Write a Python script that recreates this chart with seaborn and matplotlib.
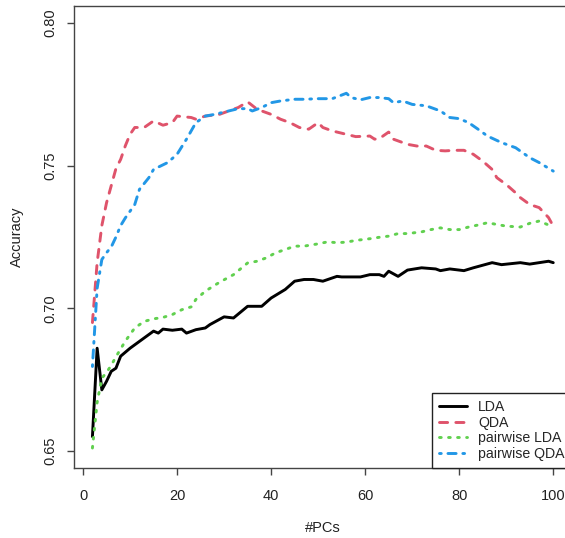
import pandas as pd
import numpy as np
import seaborn as sns
import matplotlib
import matplotlib.pyplot as plt

matplotlib.use('Agg')
sns.set_theme(style="white")
plt.rcParams['font.family'] = ['Liberation Sans', 'DejaVu Sans']

# -------------------------------Datos

lda_x = [2, 3, 4, 5, 6, 7, 8, 10, 13, 15, 16, 17, 19, 21, 22, 24, 26, 27, 30, 32,
         35, 38, 40, 43, 45, 47, 49, 51, 54, 55, 59, 61, 63, 64, 65, 67, 69, 72, 75, 76,
         78, 81, 83, 87, 89, 93, 95, 97, 99, 100]
lda_y = [0.655, 0.686, 0.6714, 0.6744, 0.6779, 0.679, 0.6832, 0.686, 0.6896, 0.692,
         0.6913, 0.6927, 0.6923, 0.6927, 0.6913, 0.6925, 0.6931, 0.6943, 0.697, 0.6966,
         0.7007, 0.7007, 0.7036, 0.7066, 0.7095, 0.7101, 0.7101, 0.7095, 0.7112, 0.711,
         0.711, 0.7118, 0.7118, 0.7112, 0.713, 0.7112, 0.7134, 0.7142, 0.7138, 0.7132,
         0.7138, 0.7132, 0.7142, 0.716, 0.7153, 0.716, 0.7155, 0.716, 0.7165, 0.716]

qda_x = [2, 3, 4, 5, 6, 7, 8, 9, 10, 11, 13, 15, 17, 19, 20, 23, 24, 26, 29, 31,
         33, 35, 37, 38, 40, 42, 44, 46, 48, 50, 51, 53, 56, 58, 61, 62, 63, 65, 66, 69,
         71, 73, 75, 77, 79, 81, 83, 85, 87, 88, 90, 92, 93, 95, 97, 99, 100]
qda_y = [0.695, 0.716, 0.729, 0.737, 0.743, 0.749, 0.7522, 0.757, 0.761, 0.7634,
         0.7634, 0.7657, 0.7642, 0.7651, 0.7674, 0.7669, 0.7663, 0.7674, 0.768, 0.7692,
         0.7704, 0.7724, 0.7698, 0.7692, 0.768, 0.7663, 0.7651, 0.7634, 0.7628, 0.7651,
         0.7634, 0.7622, 0.761, 0.7602, 0.7604, 0.7593, 0.7595, 0.7618, 0.7593, 0.7575,
         0.7569, 0.7569, 0.7554, 0.7552, 0.7554, 0.7554, 0.754, 0.7516, 0.7487, 0.7458,
         0.7434, 0.7405, 0.7388, 0.7364, 0.7353, 0.7318, 0.7288]

plda_x = [2, 3, 4, 5, 6, 7, 9, 11, 13, 15, 17, 19, 21, 23, 24, 26, 29, 32, 35, 37,
          39, 41, 43, 45, 47, 50, 52, 54, 56, 58, 61, 63, 65, 67, 69, 72, 74, 76, 78, 80,
          82, 84, 86, 88, 90, 93, 95, 97, 99, 100]
plda_y = [0.651, 0.667, 0.6755, 0.6775, 0.680, 0.683, 0.6885, 0.6931, 0.6954, 0.6963,
          0.6968, 0.6978, 0.6995, 0.7005, 0.7031, 0.706, 0.7091, 0.7118, 0.7159, 0.7165,
          0.7177, 0.7195, 0.7206, 0.7218, 0.7218, 0.7226, 0.7233, 0.723, 0.7232, 0.7238,
          0.7244, 0.7249, 0.7253, 0.7262, 0.7262, 0.7268, 0.7276, 0.7282, 0.7276, 0.7276,
          0.7285, 0.7292, 0.730, 0.7294, 0.7288, 0.7285, 0.7298, 0.7306, 0.7292, 0.7292]

pqda_x = [2, 3, 4, 5, 6, 7, 8, 9, 11, 12, 14, 15, 18, 20, 22, 24, 26, 28, 30, 33,
          35, 36, 38, 40, 42, 45, 47, 50, 53, 56, 57, 59, 61, 63, 65, 66, 68, 70, 73, 76,
          78, 80, 82, 84, 86, 89, 92, 95, 97, 100]
pqda_y = [0.6796, 0.707, 0.7171, 0.7195, 0.7215, 0.725, 0.729, 0.7317, 0.7364, 0.7417,
          0.7458, 0.7487, 0.7511, 0.754, 0.7593, 0.7651, 0.7674, 0.768, 0.7688, 0.770,
          0.770, 0.7692, 0.7704, 0.7721, 0.7727, 0.7733, 0.7733, 0.7735, 0.7735, 0.7754,
          0.7739, 0.7731, 0.7739, 0.7739, 0.7735, 0.7721, 0.7727, 0.7715, 0.771, 0.7692,
          0.7669, 0.7665, 0.7651, 0.7628, 0.7604, 0.7581, 0.7563, 0.7528, 0.7511, 0.7481]

metodos = ['LDA', 'QDA', 'pairwise LDA', 'pairwise QDA']
x_ticks = [0, 20, 40, 60, 80, 100]
y_ticks = [0.65, 0.70, 0.75, 0.80]

df = pd.concat([
    pd.DataFrame({'PCs': lda_x, 'Accuracy': lda_y, 'Metodo': 'LDA'}),
    pd.DataFrame({'PCs': qda_x, 'Accuracy': qda_y, 'Metodo': 'QDA'}),
    pd.DataFrame({'PCs': plda_x, 'Accuracy': plda_y, 'Metodo': 'pairwise LDA'}),
    pd.DataFrame({'PCs': pqda_x, 'Accuracy': pqda_y, 'Metodo': 'pairwise QDA'}),
], ignore_index=True)

# Colores de la paleta R 4.x
colores = {'LDA': '#000000', 'QDA': '#DF536B',
           'pairwise LDA': '#61D04F', 'pairwise QDA': '#2297E6'}
trazos = {'LDA': '', 'QDA': (2.8, 2.8),
          'pairwise LDA': (0.6, 2.5), 'pairwise QDA': (0.6, 2.3, 2.8, 2.3)}

fig = plt.figure(figsize=(5.65, 5.38), dpi=100)
# el eje derecho queda fuera del lienzo (recortado como en la original)
ax = fig.add_axes([74 / 565, (538 - 468) / 538, (571.7 - 74) / 565, (468 - 6) / 538])

sns.lineplot(data=df, x='PCs', y='Accuracy', hue='Metodo', style='Metodo',
             hue_order=metodos, style_order=metodos, palette=colores, dashes=trazos,
             linewidth=2.1, dash_capstyle='round', solid_capstyle='round',
             estimator=None, sort=True, ax=ax)

ax.set_xlim(-1.92, 103.92)
ax.set_ylim(0.644, 0.806)
ax.set_xticks(x_ticks)
ax.set_yticks(y_ticks)
ax.set_xticklabels([str(t) for t in x_ticks])
ax.set_yticklabels(['%.2f' % t for t in y_ticks], rotation=90, va='center')
ax.tick_params(axis='both', length=5, width=1.0, color='#444444', labelsize=10.5,
               labelcolor='#222222', left=True, bottom=True)
ax.tick_params(axis='x', pad=10)
ax.tick_params(axis='y', pad=7)
for s in ax.spines.values():
    s.set_color('#444444')
    s.set_linewidth(1.0)

ax.set_xlabel('#PCs', fontsize=10.5, color='#222222', labelpad=13)
ax.set_ylabel('Accuracy', fontsize=10.5, color='#222222', labelpad=14)

handles, labels = ax.get_legend_handles_labels()
leg = ax.legend(handles, labels, loc='lower right', bbox_to_anchor=(1, 0),
                borderaxespad=0, fancybox=False, framealpha=1, edgecolor='#222222',
                fontsize=10.2, handlelength=2.0, handletextpad=0.75, labelspacing=0.12,
                borderpad=0.5)
leg.get_frame().set_linewidth(1.0)
for line in leg.get_lines():
    line.set_dash_capstyle('round')
    line.set_linewidth(2.1)

plt.savefig('out.png', dpi=100)
